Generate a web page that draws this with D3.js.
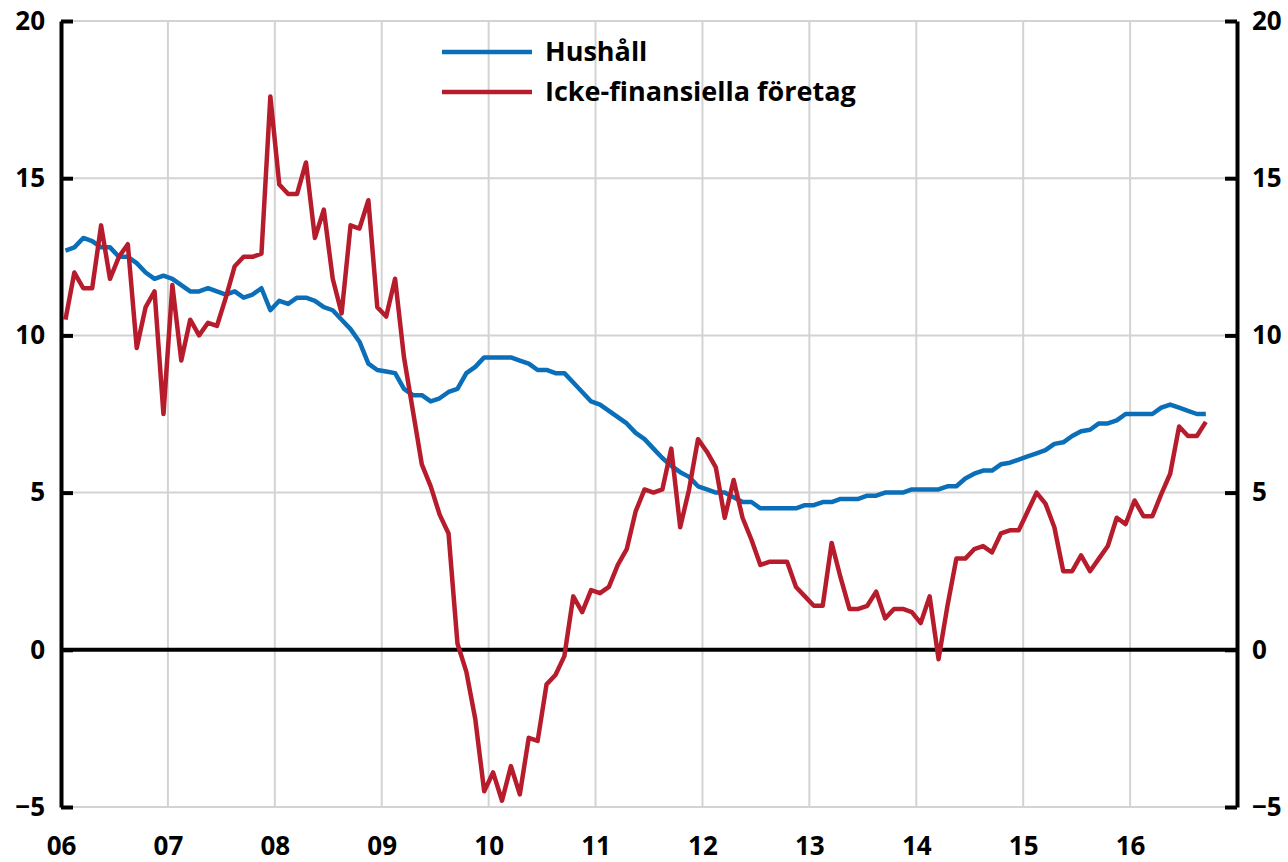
<!DOCTYPE html>
<html>
<head>
<meta charset="utf-8">
<script src="https://cdn.jsdelivr.net/npm/d3@7"></script>
<style>
  html, body { margin: 0; padding: 0; background: #fff; }
  svg { display: block; }
  text { font-family: "Open Sans", Lato, sans-serif; font-weight: 700; fill: #000; }
</style>
</head>
<body>
<svg id="chart" width="1288" height="862"></svg>
<script>
// Monthly data, Jan 2006 - Sep 2016
const startYear = 2006;
const hushall = [
  12.7, 12.8, 13.1, 13.0, 12.8, 12.8, 12.5, 12.5, 12.3, 12.0, 11.8, 11.9,
  11.8, 11.6, 11.4, 11.4, 11.5, 11.4, 11.3, 11.4, 11.2, 11.3, 11.5, 10.8,
  11.1, 11.0, 11.2, 11.2, 11.1, 10.9, 10.8, 10.5, 10.2, 9.8, 9.1, 8.9,
  8.85, 8.8, 8.3, 8.1, 8.1, 7.9, 8.0, 8.2, 8.3, 8.8, 9.0, 9.3,
  9.3, 9.3, 9.3, 9.2, 9.1, 8.9, 8.9, 8.8, 8.8, 8.5, 8.2, 7.9,
  7.8, 7.6, 7.4, 7.2, 6.9, 6.7, 6.4, 6.1, 5.85, 5.65, 5.5, 5.2,
  5.1, 5.0, 5.0, 4.85, 4.7, 4.7, 4.5, 4.5, 4.5, 4.5, 4.5, 4.6,
  4.6, 4.7, 4.7, 4.8, 4.8, 4.8, 4.9, 4.9, 5.0, 5.0, 5.0, 5.1,
  5.1, 5.1, 5.1, 5.2, 5.2, 5.45, 5.6, 5.7, 5.7, 5.9, 5.95, 6.05,
  6.15, 6.25, 6.35, 6.55, 6.6, 6.8, 6.95, 7.0, 7.2, 7.2, 7.3, 7.5,
  7.5, 7.5, 7.5, 7.7, 7.8, 7.7, 7.6, 7.5, 7.5
];
const foretag = [
  10.5, 12.0, 11.5, 11.5, 13.5, 11.8, 12.5, 12.9, 9.6, 10.9, 11.4, 7.5,
  11.6, 9.2, 10.5, 10.0, 10.4, 10.3, 11.2, 12.2, 12.5, 12.5, 12.6, 17.6,
  14.8, 14.5, 14.5, 15.5, 13.1, 14.0, 11.8, 10.7, 13.5, 13.4, 14.3, 10.9,
  10.6, 11.8, 9.3, 7.6, 5.9, 5.2, 4.3, 3.7, 0.2, -0.7, -2.2, -4.5,
  -3.9, -4.8, -3.7, -4.6, -2.8, -2.9, -1.1, -0.8, -0.2, 1.7, 1.2, 1.9,
  1.8, 2.0, 2.7, 3.2, 4.4, 5.1, 5.0, 5.1, 6.4, 3.9, 5.1, 6.7,
  6.3, 5.8, 4.2, 5.4, 4.2, 3.5, 2.7, 2.8, 2.8, 2.8, 2.0, 1.7,
  1.4, 1.4, 3.4, 2.3, 1.3, 1.3, 1.4, 1.85, 1.0, 1.3, 1.3, 1.2,
  0.85, 1.7, -0.3, 1.4, 2.9, 2.9, 3.2, 3.3, 3.1, 3.7, 3.8, 3.8,
  4.4, 5.0, 4.65, 3.9, 2.5, 2.5, 3.0, 2.5, 2.9, 3.3, 4.2, 4.0,
  4.75, 4.25, 4.25, 4.95, 5.6, 7.1, 6.8, 6.8, 7.25
];
const yTicks = [-5, 0, 5, 10, 15, 20];
const xTickYears = [2006, 2007, 2008, 2009, 2010, 2011, 2012, 2013, 2014, 2015, 2016];
const xTickLabels = ["06", "07", "08", "09", "10", "11", "12", "13", "14", "15", "16"];
const seriesNames = ["Hushåll", "Icke-finansiella företag"];
const seriesColors = ["#0a6fb8", "#b71c2d"];

(function () {
const svg = d3.select("#chart");
const pL = 61, pR = 1237, pT = 21, pB = 807;
const FONT = "'Open Sans', Lato, sans-serif";

const x = d3.scaleLinear().domain([2006, 2017]).range([pL, pR]);
const y = d3.scaleLinear().domain([-5, 20]).range([pB, pT]);

// Gridlines
const grid = svg.append("g");
grid.selectAll("line.h").data(yTicks).join("line")
  .attr("class", "h")
  .attr("x1", pL).attr("x2", pR)
  .attr("y1", d => y(d)).attr("y2", d => y(d))
  .attr("stroke", "#d3d3d3").attr("stroke-width", 2);
grid.selectAll("line.v").data(xTickYears.slice(1)).join("line")
  .attr("class", "v")
  .attr("x1", d => x(d)).attr("x2", d => x(d))
  .attr("y1", pT).attr("y2", pB)
  .attr("stroke", "#d3d3d3").attr("stroke-width", 2);

// Zero line
svg.append("line")
  .attr("x1", pL).attr("x2", pR)
  .attr("y1", y(0)).attr("y2", y(0))
  .attr("stroke", "#000").attr("stroke-width", 4);

// Lines
const toPts = arr => arr.map((v, i) => [startYear + (i + 0.5) / 12, v]);
const line = d3.line().x(d => x(d[0])).y(d => y(d[1]));
[hushall, foretag].forEach((arr, k) => {
  svg.append("path")
    .attr("d", line(toPts(arr)))
    .attr("fill", "none")
    .attr("stroke", seriesColors[k])
    .attr("stroke-width", 4.5)
    .attr("stroke-linejoin", "round");
});

// Axes
const yl = svg.append("g").attr("transform", `translate(${pL},0)`)
  .call(d3.axisLeft(y).tickValues(yTicks).tickSize(-12).tickPadding(16).tickSizeOuter(0));
const yr = svg.append("g").attr("transform", `translate(${pR},0)`)
  .call(d3.axisRight(y).tickValues(yTicks).tickSize(-12).tickPadding(15).tickSizeOuter(0));
[yl, yr].forEach(g => {
  g.select(".domain").attr("stroke", "#000").attr("stroke-width", 4);
  g.selectAll(".tick line").attr("stroke", "#000").attr("stroke-width", 4);
  g.selectAll(".tick text").attr("font-size", 26).attr("font-family", FONT).attr("font-weight", 700).attr("fill", "#000");
});

const xa = svg.append("g").attr("transform", `translate(0,${pB})`)
  .call(d3.axisBottom(x).tickValues(xTickYears).tickSize(0).tickPadding(30)
    .tickFormat((d, i) => xTickLabels[i]));
xa.select(".domain").remove();
xa.selectAll(".tick text").attr("font-size", 26).attr("font-family", FONT).attr("font-weight", 700).attr("fill", "#000");

// Legend
const legend = svg.append("g");
seriesNames.forEach((name, k) => {
  const ly = 52 + k * 40;
  legend.append("line")
    .attr("x1", 442).attr("x2", 532).attr("y1", ly).attr("y2", ly)
    .attr("stroke", seriesColors[k]).attr("stroke-width", 4.5);
  legend.append("text")
    .attr("x", 545).attr("y", ly + 9)
    .attr("font-size", 27)
    .attr("font-family", FONT)
    .text(name);
});
})();
</script>
</body>
</html>
